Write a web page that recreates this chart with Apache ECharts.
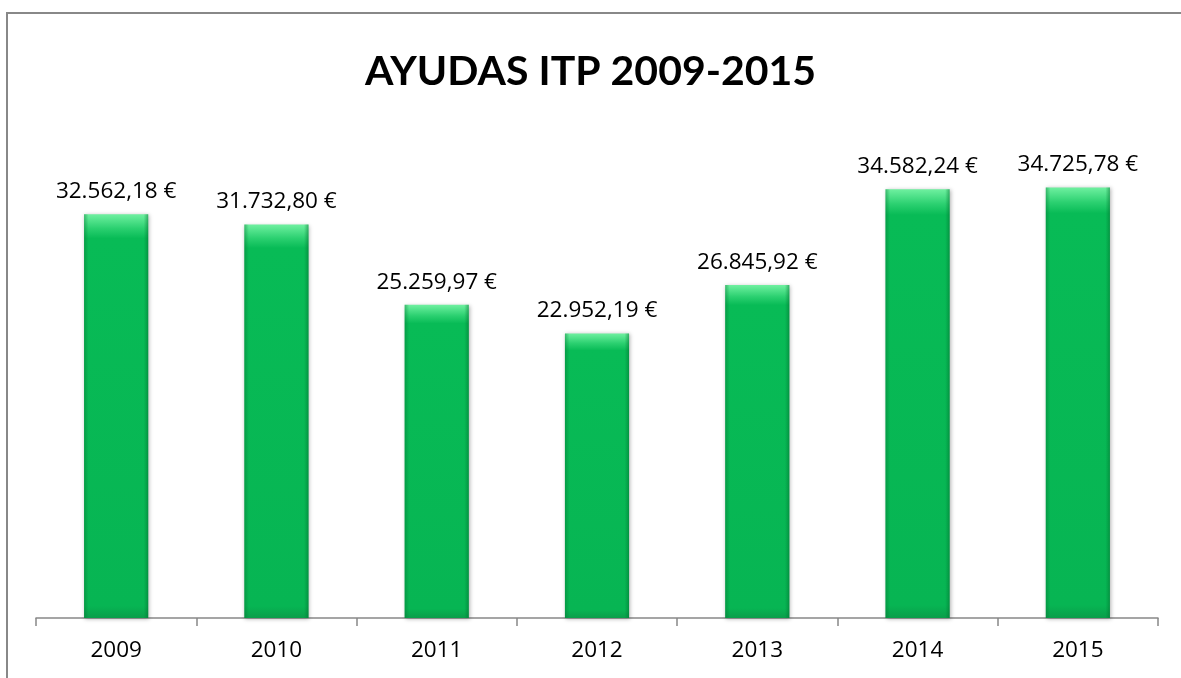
<!DOCTYPE html>
<html><head><meta charset="utf-8">
<script src="https://cdn.jsdelivr.net/npm/echarts@6/dist/echarts.min.js"></script>
<style>
html,body{margin:0;padding:0;background:#fff;overflow:hidden;}
#frame{position:absolute;left:6px;top:12px;right:0;bottom:0;border-top:2px solid #888;border-left:2px solid #888;}
#c{position:absolute;left:0;top:0;width:1181px;height:678px;}
</style></head>
<body><div id="frame"></div><div id="c"></div>
<script>
const title = 'AYUDAS ITP 2009-2015';
const years = ['2009','2010','2011','2012','2013','2014','2015'];
const values = [32562.18, 31732.80, 25259.97, 22952.19, 26845.92, 34582.24, 34725.78];

function fmt(v){
  const parts = v.toFixed(2).split('.');
  const int = parts[0].replace(/\B(?=(\d{3})+(?!\d))/g,'.');
  return int + ',' + parts[1] + ' €';
}
const chart = echarts.init(document.getElementById('c'));
const tfont = 'Lato, "Open Sans", sans-serif';
const font = '"Open Sans", Lato, sans-serif';
chart.setOption({
  animation:false,
  title:{text:title,left:'center',top:46,textStyle:{fontFamily:tfont,fontWeight:'bold',fontSize:41,color:'#000'}},
  grid:{left:36,right:23,top:122,bottom:60},
  xAxis:{type:'category',data:years,
    axisLine:{lineStyle:{color:'#888',width:1.5}},
    axisTick:{show:true,length:8,lineStyle:{color:'#888',width:1.5}},
    axisLabel:{fontFamily:font,fontSize:22.5,color:'#000',margin:21}},
  yAxis:{type:'value',min:0,max:40000,show:false,splitLine:{show:false}},
  series:[{
    type:'bar',data:values,barWidth:'40%',
    itemStyle:{
      color:{type:'linear',x:0,y:0,x2:0,y2:1,colorStops:[
        {offset:0,color:'#6ff0a0'},{offset:0.035,color:'#2bd070'},{offset:0.06,color:'#08bb56'},{offset:0.97,color:'#07b553'},{offset:1,color:'#0a9e4a'}]},
      shadowColor:'rgba(0,0,0,0.3)',shadowBlur:4,shadowOffsetX:1,shadowOffsetY:1
    },
    label:{show:true,position:'top',distance:11,formatter:p=>fmt(p.value),fontFamily:font,fontSize:22.5,color:'#000'}
  },{
    type:'bar',data:values,barWidth:'40%',barGap:'-100%',silent:true,
    itemStyle:{color:{type:'linear',x:0,y:0,x2:1,y2:0,colorStops:[
      {offset:0,color:'rgba(0,120,50,0.45)'},{offset:0.07,color:'rgba(0,120,50,0)'},{offset:0.93,color:'rgba(0,120,50,0)'},{offset:1,color:'rgba(0,110,45,0.5)'}]}}
  }]
});
</script></body></html>
